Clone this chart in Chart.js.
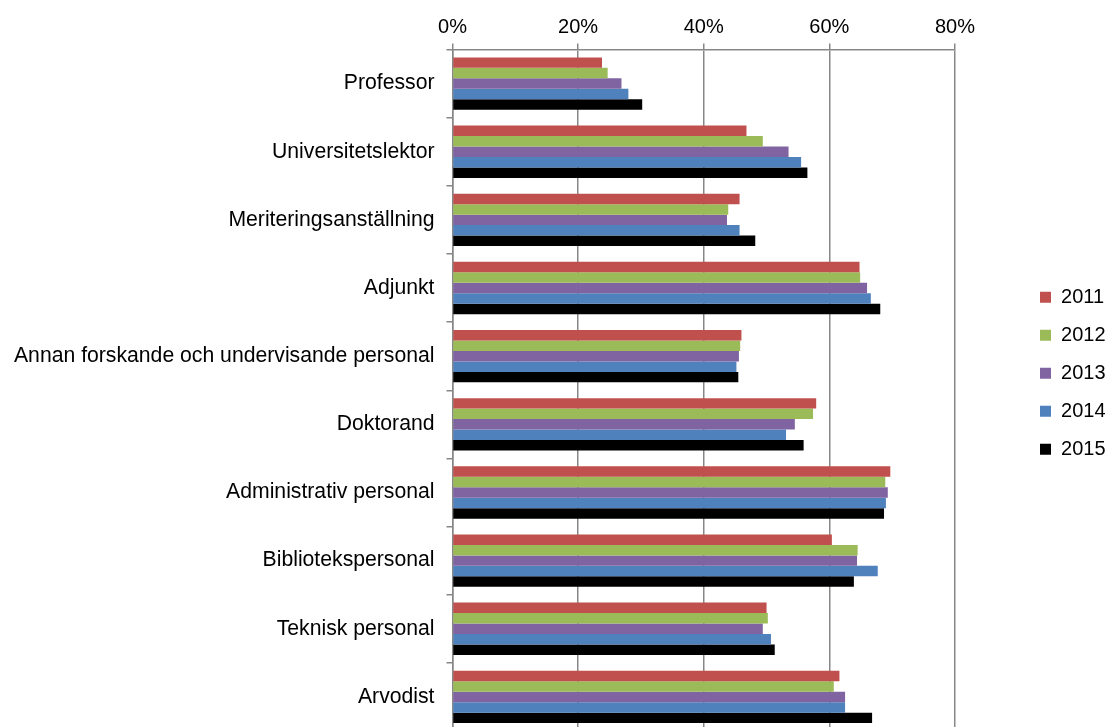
<!DOCTYPE html>
<html>
<head>
<meta charset="utf-8">
<script src="https://cdn.jsdelivr.net/npm/chart.js@4"></script>
<style>
html,body{margin:0;padding:0;background:#fff;overflow:hidden;}
#wrap{position:relative;width:1107px;height:731px;}
</style>
</head>
<body>
<div id="wrap"><canvas id="c"></canvas></div>
<script>
const categories = [
  "Professor",
  "Universitetslektor",
  "Meriteringsanställning",
  "Adjunkt",
  "Annan forskande och undervisande personal",
  "Doktorand",
  "Administrativ personal",
  "Bibliotekspersonal",
  "Teknisk personal",
  "Arvodist"
];
const years = ["2011", "2012", "2013", "2014", "2015"];
const values2011 = [23.8, 46.8, 45.7, 64.8, 46.0, 57.9, 69.7, 60.4, 50.0, 61.6];
const values2012 = [24.7, 49.4, 43.9, 64.9, 45.8, 57.4, 68.9, 64.5, 50.2, 60.7];
const values2013 = [26.9, 53.5, 43.7, 66.0, 45.6, 54.5, 69.3, 64.4, 49.4, 62.5];
const values2014 = [28.0, 55.5, 45.7, 66.6, 45.2, 53.1, 69.0, 67.7, 50.7, 62.5];
const values2015 = [30.2, 56.5, 48.2, 68.1, 45.5, 55.9, 68.7, 63.9, 51.3, 66.8];
const xTicks = [0, 20, 40, 60, 80];

const seriesValues = [values2011, values2012, values2013, values2014, values2015];
const colors = ["#C0504D", "#9BBB59", "#8064A2", "#4F81BD", "#000000"];

const FONT = "'Liberation Sans', Arial, sans-serif";
const LEGEND_EXTRA = 58.5;
const LEGEND_SHIFT = 67;
const LEGEND_UP = -2;

const legendShift = {
  id: 'legendShift',
  beforeLayout(chart) {
    const lg = chart.legend;
    if (lg && !lg._patched) {
      const fit = lg.fit;
      lg.fit = function () { fit.call(this); this.width += LEGEND_EXTRA; };
      lg._patched = true;
    }
  },
  afterLayout(chart) {
    const lg = chart.legend;
    if (lg) {
      lg.left += LEGEND_SHIFT;
      lg.top -= LEGEND_UP;
      lg.bottom -= LEGEND_UP;
    }
  }
};

new Chart(document.getElementById('c'), {
  type: 'bar',
  data: {
    labels: categories,
    datasets: years.map((y, i) => ({
      label: y,
      data: seriesValues[i],
      backgroundColor: colors[i],
      borderWidth: 0,
      categoryPercentage: 0.768,
      barPercentage: 1.0
    }))
  },
  options: {
    indexAxis: 'y',
    responsive: true,
    maintainAspectRatio: false,
    animation: false,
    layout: { padding: { left: 0, top: 11.5, right: 0, bottom: 0 } },
    scales: {
      x: {
        position: 'top',
        min: 0,
        max: 80,
        afterBuildTicks(scale) { scale.ticks = xTicks.map(v => ({ value: v })); },
        ticks: {
          callback: v => v + '%',
          color: '#000',
          font: { family: FONT, size: 20 },
          padding: 4,
          maxRotation: 0
        },
        grid: { color: '#878787', lineWidth: 1.5, tickLength: 6 },
        border: { color: '#878787', width: 1.5 }
      },
      y: {
        afterFit(scale) { scale.width = 452.5; scale.paddingTop = 0; scale.paddingBottom = 0; },
        ticks: {
          color: '#000',
          font: { family: FONT, size: 21.2 },
          padding: 12,
          autoSkip: false
        },
        grid: { color: '#878787', lineWidth: 1.5, tickLength: 6, drawOnChartArea: false, offset: true },
        border: { color: '#878787', width: 1.5 }
      }
    },
    plugins: {
      legend: {
        position: 'right',
        labels: {
          boxWidth: 11,
          boxHeight: 11,
          padding: 18,
          color: '#000',
          font: { family: FONT, size: 20 }
        }
      },
      tooltip: { enabled: false }
    }
  },
  plugins: [legendShift]
});
</script>
</body>
</html>
